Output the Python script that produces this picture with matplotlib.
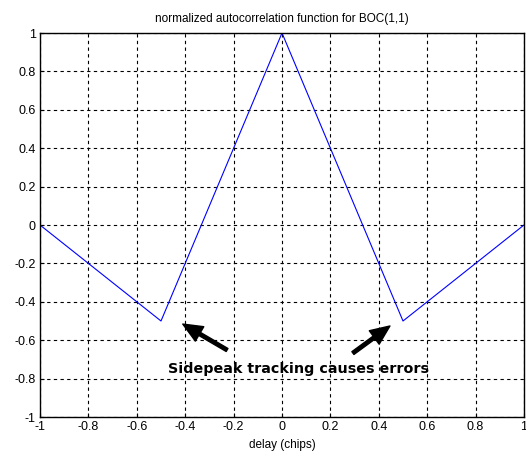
import matplotlib
matplotlib.use("Agg")
import matplotlib.pyplot as plt

delay = [-1.0, -0.5, 0.0, 0.5, 1.0]
acf = [0.0, -0.5, 1.0, -0.5, 0.0]
xticks = [-1, -0.8, -0.6, -0.4, -0.2, 0, 0.2, 0.4, 0.6, 0.8, 1]
yticks = [-1, -0.8, -0.6, -0.4, -0.2, 0, 0.2, 0.4, 0.6, 0.8, 1]
annot_text = "Sidepeak tracking causes errors"

plt.rcParams['font.family'] = ['Liberation Sans', 'DejaVu Sans']

fig = plt.figure(figsize=(5.26, 4.55), dpi=100)
ax = fig.add_axes([40/526, 38/455, 484/526, 384/455])
ax.plot(delay, acf, color='blue', lw=0.8)
ax.set_xlim(-1, 1)
ax.set_ylim(-1, 1)
ax.set_xticks(xticks)
ax.set_yticks(yticks)
ax.set_xticklabels([f"{t:g}" for t in xticks])
ax.set_yticklabels([f"{t:g}" for t in yticks])
ax.tick_params(direction='in', labelsize=9, length=3, pad=3)
ax.grid(True, color='black', linestyle=(0, (3, 3)), lw=0.8)
for s in ax.spines.values():
    s.set_linewidth(1.0)
ax.set_title("normalized autocorrelation function for BOC(1,1)", fontsize=8.5, pad=8)
ax.set_xlabel("delay (chips)", fontsize=8.5, labelpad=4)

ap = dict(facecolor='black', edgecolor='black', width=2.5, headwidth=12, headlength=14, shrink=0)
ax.annotate("", xy=(-0.41, -0.516), xytext=(-0.227, -0.651), arrowprops=ap)
ax.annotate("", xy=(0.446, -0.526), xytext=(0.293, -0.667), arrowprops=ap)
ax.text(-0.471, -0.75, annot_text, fontsize=10.3, fontweight='bold', va='center', ha='left',
        family='DejaVu Sans')

fig.savefig("out.png", dpi=100)
